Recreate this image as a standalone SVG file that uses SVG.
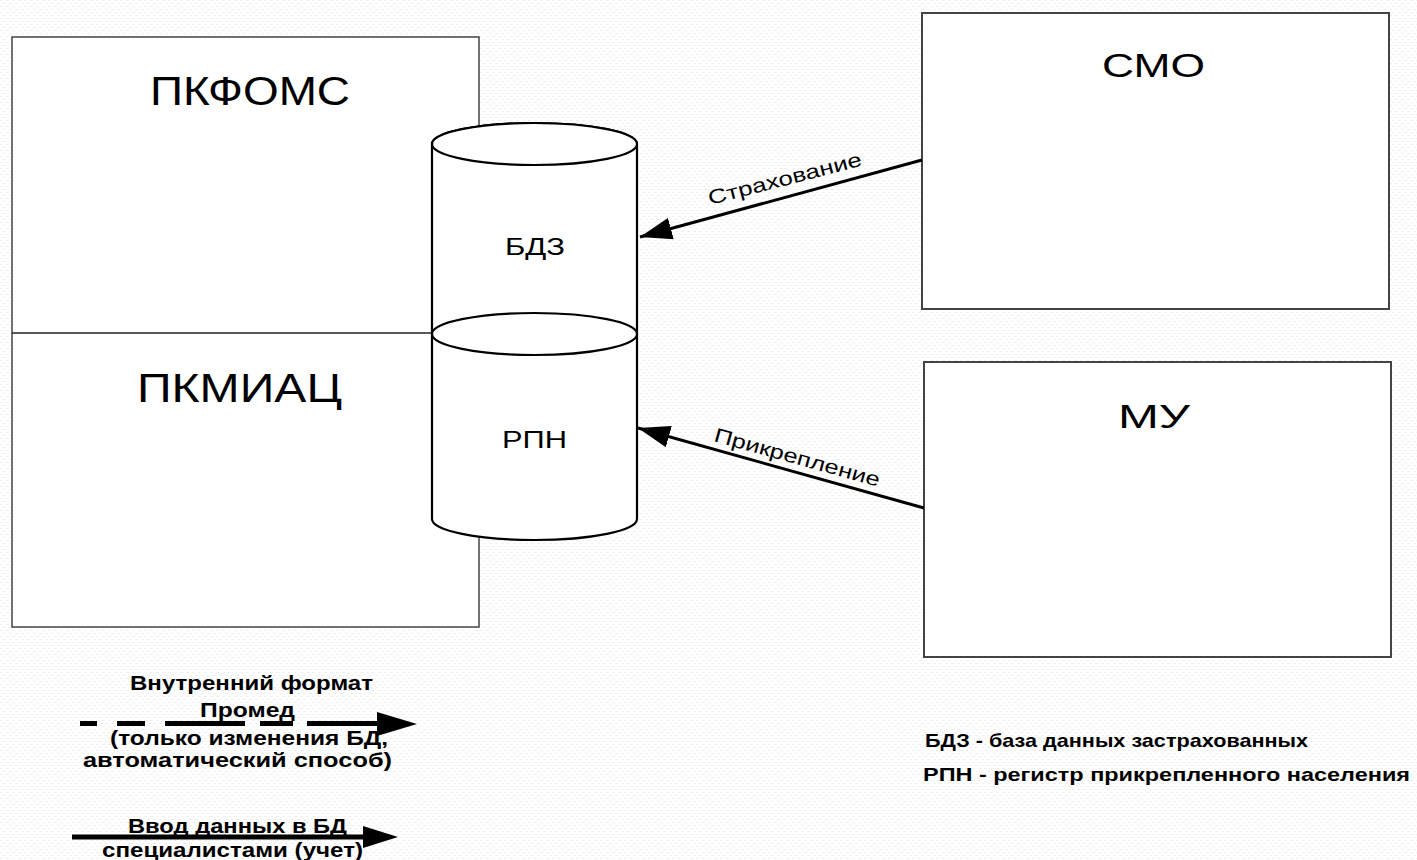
<svg xmlns="http://www.w3.org/2000/svg" width="1417" height="860" viewBox="0 0 1417 860">
<defs>
<pattern id="bg" width="6" height="6" patternUnits="userSpaceOnUse">
<rect width="6" height="6" fill="#ffffff"/>
<rect x="0" y="0" width="3" height="1" fill="#f1f1f1"/>
<rect x="3" y="3" width="3" height="1" fill="#f1f1f1"/>
</pattern>
<marker id="ah" markerUnits="userSpaceOnUse" markerWidth="34" markerHeight="22" refX="32" refY="11" orient="auto">
<path d="M0,0 L32,11 L0,22 Z" fill="#000"/>
</marker>
</defs>
<style>
.box{fill:#fff;stroke:#444;stroke-width:2}
.cyl{fill:#fff;stroke:#000;stroke-width:2.2}
.t{font-family:"Liberation Sans",Arial,sans-serif;fill:#000}
.b{font-family:"Liberation Sans",Arial,sans-serif;font-weight:bold;fill:#000}
.conn{stroke:#000;stroke-width:3;fill:none}
.leg{stroke:#000;stroke-width:5;fill:none}
</style>
<rect width="1417" height="860" fill="url(#bg)"/>

<g id="pk">
<rect class="box" x="12" y="37" width="467" height="590" style="stroke-width:1.5"/>
<line x1="12" y1="333" x2="432" y2="333" stroke="#222" stroke-width="1.5"/>
<text class="t" x="150" y="105" font-size="41" textLength="200" lengthAdjust="spacingAndGlyphs">ПКФОМС</text>
<text class="t" x="137" y="402" font-size="41" textLength="205" lengthAdjust="spacingAndGlyphs">ПКМИАЦ</text>
</g>

<g id="db">
<path class="cyl" d="M432,144 L432,519 A102.5,21 0 0 0 637,519 L637,144 A102.5,21 0 0 0 432,144 Z"/>
<ellipse class="cyl" cx="534.5" cy="144" rx="102.5" ry="21"/>
<ellipse class="cyl" cx="534.5" cy="334" rx="102.5" ry="21"/>
<text class="t" x="505" y="255" font-size="24" textLength="60" lengthAdjust="spacingAndGlyphs">БДЗ</text>
<text class="t" x="502" y="448" font-size="24" textLength="65" lengthAdjust="spacingAndGlyphs">РПН</text>
</g>

<g id="smo">
<rect class="box" x="922" y="13" width="467" height="296"/>
<text class="t" x="1102" y="77" font-size="34" textLength="103" lengthAdjust="spacingAndGlyphs">СМО</text>
</g>

<g id="mu">
<rect class="box" x="924" y="362" width="467" height="295"/>
<text class="t" x="1118" y="428" font-size="34" textLength="72" lengthAdjust="spacingAndGlyphs">МУ</text>
</g>

<g id="connectors">
<line class="conn" x1="922" y1="160" x2="640" y2="237" marker-end="url(#ah)"/>
<text class="t" font-size="20" transform="translate(710,205) rotate(-14.5)" textLength="158" lengthAdjust="spacingAndGlyphs">Страхование</text>
<line class="conn" x1="924" y1="508" x2="638" y2="428" marker-end="url(#ah)"/>
<text class="t" font-size="20" transform="translate(713,441) rotate(15.5)" textLength="171" lengthAdjust="spacingAndGlyphs">Прикрепление</text>
</g>

<g id="legend">
<text class="b" x="130" y="690" font-size="21" textLength="243" lengthAdjust="spacingAndGlyphs">Внутренний формат</text>
<text class="b" x="200" y="717" font-size="21" textLength="95" lengthAdjust="spacingAndGlyphs">Промед</text>
<path class="leg" d="M80,723.5 H97 M117,723.5 H145 M165,723.5 H245 M260,723.5 H293 M307,723.5 H380"/>
<path d="M377,712 L417,724 L377,736 Z" fill="#000"/>
<text class="b" x="110" y="745" font-size="21" textLength="278" lengthAdjust="spacingAndGlyphs">(только изменения БД,</text>
<text class="b" x="83" y="767" font-size="21" textLength="309" lengthAdjust="spacingAndGlyphs">автоматический способ)</text>

<text class="b" x="128" y="833" font-size="21" textLength="219" lengthAdjust="spacingAndGlyphs">Ввод данных в БД</text>
<line class="leg" x1="72" y1="837" x2="366" y2="837"/>
<path d="M363,826 L398,837 L363,848 Z" fill="#000"/>
<text class="b" x="102" y="857" font-size="21" textLength="261" lengthAdjust="spacingAndGlyphs">специалистами (учет)</text>

<text class="b" x="925" y="747" font-size="19" textLength="383" lengthAdjust="spacingAndGlyphs">БДЗ - база данных застрахованных</text>
<text class="b" x="923" y="781" font-size="19" textLength="487" lengthAdjust="spacingAndGlyphs">РПН - регистр прикрепленного населения</text>
</g>
</svg>
